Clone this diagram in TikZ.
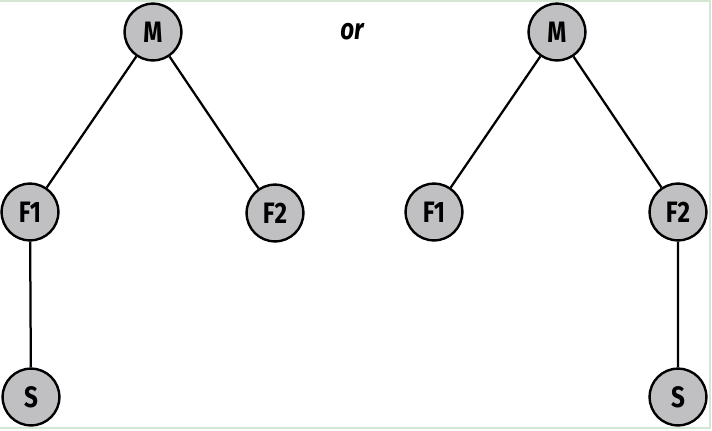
\documentclass[tikz,border=0pt]{standalone}
\usepackage{fontspec}
\setmainfont{Fira Sans}[FakeStretch=0.82]
\usepackage{tikz}
\definecolor{nodegray}{RGB}{192,192,194}
\definecolor{framegreen}{RGB}{212,230,212}

\begin{document}
\begin{tikzpicture}[x=0.025cm,y=-0.025cm,
    vert/.style={circle,draw,line width=1.7pt,fill=nodegray,minimum size=1.42cm,
      inner sep=0pt,font=\fontsize{21}{21}\selectfont\bfseries},
    edge/.style={line width=1.6pt}]
\useasboundingbox (0,0) rectangle (712,430);
\draw[framegreen,line width=1pt] (-2,1) -- (710,1) -- (710,428) -- (-2,428);
% left tree
\node[vert] (M1) at (153,32) {M};
\node[vert] (F11) at (30,212) {F1};
\node[vert] (F21) at (275,213) {F2};
\node[vert] (S1) at (31,397) {S};
\draw[edge] (M1)--(F11) (M1)--(F21) (F11)--(S1);
% right tree
\node[vert] (M2) at (557,32) {M};
\node[vert] (F12) at (434,212) {F1};
\node[vert] (F22) at (678,212) {F2};
\node[vert] (S2) at (678,397) {S};
\draw[edge] (M2)--(F12) (M2)--(F22) (F22)--(S2);
\node[font=\fontsize{21}{21}\selectfont\bfseries\itshape] (or) at (352,32) {or};
\end{tikzpicture}
\end{document}
